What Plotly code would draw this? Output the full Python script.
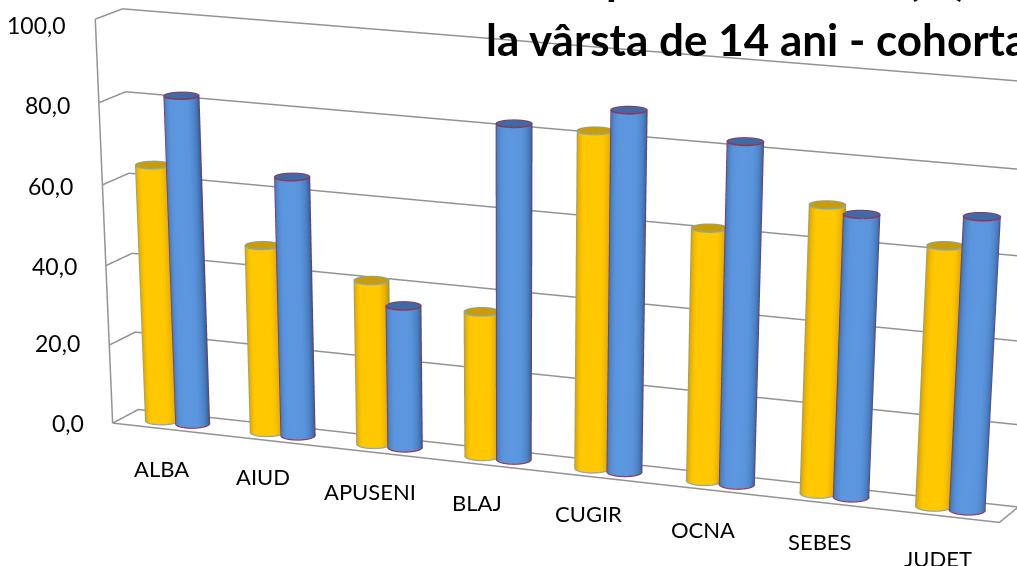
import numpy as np
import plotly.graph_objects as go

categories = ["ALBA", "AIUD", "APUSENI", "BLAJ", "CUGIR", "OCNA", "SEBES", "JUDET"]
series_a = [64.3, 47, 41, 36, 82, 61.5, 69.5, 62.5]
series_b = [81.8, 64.5, 35.5, 82, 87.5, 82.5, 68, 70]
ticks = [0, 20, 40, 60, 80, 100]
tick_labels = ["0,0", "20,0", "40,0", "60,0", "80,0", "100,0"]
title_line = "la vârsta de 14 ani - cohorta"

W, H = 1017, 4000
GRID = "#939393"
RX, RY, OFF = 0.145, 0.29, 0.145
T0 = np.radians(-65)
TS = np.radians(-75)
label_dx = [-3, -7, -7, -9, -9, -7, -4, -3]
label_dy = [40, 36, 39, 38, 36, 40, 39, 43]
tick_dy = [0, 2, 0, -1, -2, -6]
FONT = "Lato, Carlito, Calibri, sans-serif"

YELLOW = [[0, "#b8900c"], [0.5, "#e6ae00"], [0.85, "#ffc800"], [1, "#ffc800"]]
BLUE = [[0, "#2f5a92"], [0.5, "#4a7fc2"], [0.85, "#5a94dc"], [1, "#5c96de"]]

fig = go.Figure()

def line3d(x, y, z, color=GRID, width=3):
    fig.add_trace(go.Scatter3d(x=x, y=y, z=z, mode="lines", hoverinfo="skip",
                               line=dict(color=color, width=width)))

for v in ticks:
    line3d([8, 0, 0], [1, 1, 0], [v, v, v])
line3d([0, 8, 8, 0, 0], [0, 0, 1, 1, 0], [0, 0, 0, 0, 0])
line3d([0, 0], [0, 0], [0, 100])

FLAT = dict(ambient=1, diffuse=0, specular=0, roughness=1, fresnel=0)

def cylinder(cx, value, scale, cap, edge):
    t = np.linspace(0, 2 * np.pi, 97)
    xs = cx + RX * np.cos(t)
    ys = 0.5 + RY * np.sin(t)
    shade = np.clip(np.cos(t - TS), 0, 1)
    fig.add_trace(go.Surface(
        x=np.array([xs, xs]), y=np.array([ys, ys]),
        z=np.array([np.zeros_like(t), np.full_like(t, value)]),
        surfacecolor=np.array([shade, shade]), colorscale=scale, cmin=0, cmax=1,
        showscale=False, hoverinfo="skip", lighting=FLAT))
    fig.add_trace(go.Surface(
        x=np.array([np.full_like(t, cx), xs]), y=np.array([np.full_like(t, 0.5), ys]),
        z=np.full((2, t.size), value),
        surfacecolor=np.zeros((2, t.size)), colorscale=[[0, cap], [1, cap]], cmin=0, cmax=1,
        showscale=False, hoverinfo="skip", lighting=FLAT))
    line3d(xs, ys, np.full_like(t, value), edge, 3)
    line3d(xs, ys, np.zeros_like(t), edge, 3)
    for a in (T0 - np.pi / 2, T0 + np.pi / 2):
        line3d([cx + RX * np.cos(a)] * 2, [0.5 + RY * np.sin(a)] * 2, [0, value], edge, 2.5)

for i in range(len(categories)):
    cylinder(i + 0.5 - OFF, series_a[i], YELLOW, "#c99c0a", "#86a6ae")
    cylinder(i + 0.5 + OFF, series_b[i], BLUE, "#3f6aa5", "#95304f")

scene_notes = []
for v, s_, d in zip(ticks, tick_labels, tick_dy):
    scene_notes.append(dict(x=0, y=0, z=v, text=s_, showarrow=False, xanchor="right", yanchor="middle",
                            xshift=-27, yshift=d, font=dict(size=23, family=FONT, color="#000")))
for i, c in enumerate(categories):
    scene_notes.append(dict(x=i + 0.5, y=0, z=0, text=c, showarrow=False, xanchor="center", yanchor="middle",
                            xshift=label_dx[i], yshift=-label_dy[i], font=dict(size=22, family=FONT, color="#000")))

def page_y(px):
    return 1 - px / H

title_font = dict(size=44, family=FONT, color="#000", weight="bold")
notes = [
    dict(text=title_line, x=484 / W, y=page_y(67), xref="paper", yref="paper", showarrow=False,
         xanchor="left", yanchor="bottom", font=title_font),
    dict(text="p", x=604 / W, y=page_y(6), xref="paper", yref="paper", showarrow=False,
         xanchor="left", yanchor="bottom", font=title_font),
    dict(text="(%)", x=905 / W, y=page_y(6), xref="paper", yref="paper", showarrow=False,
         xanchor="left", yanchor="bottom", font=title_font),
]

hidden = dict(visible=False, showspikes=False)
fig.update_layout(
    width=W, height=H, margin=dict(l=0, r=0, t=0, b=0), showlegend=False,
    paper_bgcolor="#fff", annotations=notes,
    scene=dict(
        domain=dict(x=[0, 1], y=[0, 1]), aspectmode="manual",
        aspectratio=dict(x=2.4473, y=0.1518, z=1),
        xaxis=dict(range=[0, 8], **hidden), yaxis=dict(range=[0, 1], **hidden),
        zaxis=dict(range=[0, 100], **hidden),
        annotations=scene_notes,
        camera=dict(eye=dict(x=4.7753, y=-11.6293, z=2.7848),
                    center=dict(x=-0.0108, y=-0.2678, z=-5.0065),
                    up=dict(x=0, y=0, z=1), projection=dict(type="perspective"))),
)
fig.write_html("out.html", config=dict(displayModeBar=False),
               post_script="document.body.style.margin='0';document.documentElement.style.overflow='hidden';")
